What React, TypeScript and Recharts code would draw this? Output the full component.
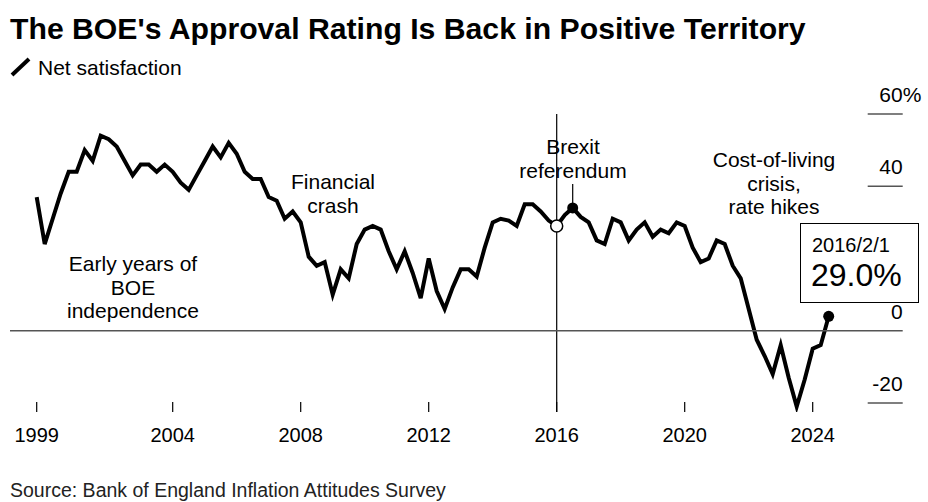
import { LineChart, Line, XAxis, YAxis, ReferenceLine } from "recharts";

// quarterly survey rounds, Nov 1999 .. Aug 2024
const FIRST_YEAR = 1999;
const LAST_YEAR = 2024;
const SURVEY_MONTHS = [2, 5, 8, 11];

const DATES: string[] = [];
for (let y = FIRST_YEAR; y <= LAST_YEAR; y++) {
  for (const m of SURVEY_MONTHS) {
    if (y === FIRST_YEAR && m < 11) continue;
    if (y === LAST_YEAR && m > 8) continue;
    DATES.push(`${y}/${m}/1`);
  }
}

const NET_SATISFACTION = [
  37, 24, 31, 38, 44, 44, 50, 47, 54, 53,
  51, 47, 43, 46, 46, 44, 46, 44, 41, 39,
  43, 47, 51, 48, 52, 49, 44, 42, 42, 37,
  36, 31, 33, 30, 20.5, 18, 19, 10, 17, 14.5,
  24, 28, 29, 28, 22, 17, 22, 16, 9, 20,
  11, 6, 12, 17, 17, 15, 23, 30, 31, 30.5,
  29, 35, 35, 33, 30.5, 29, 32, 34, 31.5, 30,
  25, 24, 31, 30, 25, 28, 30, 26, 28, 27,
  30, 29, 23, 19, 20, 25, 24, 18, 14.5, 6,
  -2.5, -7, -12, -4, -13, -21, -13.5, -5, -4, 4,
];

const X_TICKS = ["1999/11/1", "2004/2/1", "2008/2/1", "2012/2/1", "2016/2/1", "2020/2/1", "2024/2/1"];
const X_TICK_LABELS = ["1999", "2004", "2008", "2012", "2016", "2020", "2024"];
const Y_TICKS = [-20, 0, 20, 40, 60];
// the 20 tick sits behind the hover box, so its label is not drawn
const Y_HIDDEN_LABELS = [20];

const HOVER_DATE = "2016/2/1";
const BREXIT_DATE = "2016/8/1";

const data = DATES.map((date, i) => ({ date, value: NET_SATISFACTION[i] }));
const hoverIndex = DATES.indexOf(HOVER_DATE);
const brexitIndex = DATES.indexOf(BREXIT_DATE);
const lastIndex = DATES.length - 1;

const FONT = '"Liberation Sans", Arial, Helvetica, sans-serif';
const W = 928;
const H = 502;

function XTick(props: any) {
  const { x, y, payload } = props;
  const label = X_TICK_LABELS[X_TICKS.indexOf(payload.value)];
  return (
    <g>
      <line x1={x} x2={x} y1={y - 10} y2={y} stroke="#000" strokeWidth={1.2} />
      <text x={x} y={y + 30} textAnchor="middle" fontSize={20} fontFamily={FONT} fill="#000">
        {label}
      </text>
    </g>
  );
}

function YTick(props: any) {
  const { x, y, payload } = props;
  const v = payload.value;
  const showLabel = !Y_HIDDEN_LABELS.includes(v);
  return (
    <g>
      {v === 0 ? (
        <line x1={10} x2={x + 74} y1={y} y2={y} stroke="#555" strokeWidth={1.5} />
      ) : (
        <line x1={x + 39} x2={x + 74} y1={y} y2={y} stroke="#555" strokeWidth={1.5} />
      )}
      {showLabel && (
        <text x={x + 74} y={y - 12} textAnchor="end" fontSize={21} fontFamily={FONT} fill="#000">
          {v}
        </text>
      )}
      {v === 60 && (
        <text x={x + 74} y={y - 12} textAnchor="start" fontSize={21} fontFamily={FONT} fill="#000">
          %
        </text>
      )}
    </g>
  );
}

function Dot(props: any) {
  const { cx, cy, index } = props;
  if (index === hoverIndex) {
    return <circle key={index} cx={cx} cy={cy} r={6} fill="#fff" stroke="#000" strokeWidth={1.5} />;
  }
  if (index === brexitIndex) {
    return (
      <g key={index}>
        <line x1={cx} x2={cx} y1={cy - 24} y2={cy} stroke="#000" strokeWidth={1.2} />
        <circle cx={cx} cy={cy} r={5.5} fill="#000" />
      </g>
    );
  }
  if (index === lastIndex) {
    return <circle key={index} cx={cx} cy={cy} r={5.5} fill="#000" />;
  }
  return <g key={index} />;
}

function Note({ lines, x, y }: { lines: string[]; x: number; y: number }) {
  return (
    <text textAnchor="middle" fontSize={21} fontFamily={FONT} fill="#000">
      {lines.map((l, i) => (
        <tspan key={i} x={x} y={y + i * 23.5}>
          {l}
        </tspan>
      ))}
    </text>
  );
}

export default function App() {
  const hoverValue = NET_SATISFACTION[hoverIndex];
  return (
    <div style={{ position: "absolute", left: 0, top: 0, width: W, height: H, background: "#fff" }}>
      <LineChart
        width={W}
        height={H}
        data={data}
        margin={{ top: 114, right: 0, bottom: 50, left: 36.7 }}
      >
        <XAxis
          dataKey="date"
          ticks={X_TICKS}
          interval={0}
          axisLine={false}
          tickLine={false}
          tickSize={0}
          tickMargin={0}
          height={40}
          tick={<XTick />}
        />
        <YAxis
          orientation="right"
          type="number"
          domain={[-22.5, 60]}
          ticks={Y_TICKS}
          allowDataOverflow
          axisLine={false}
          tickLine={false}
          tickSize={0}
          tickMargin={0}
          width={99.3}
          tick={<YTick />}
        />
        <ReferenceLine x={HOVER_DATE} stroke="#000" strokeWidth={1.2} />
        <Line
          dataKey="value"
          stroke="#000"
          strokeWidth={4}
          strokeLinejoin="miter"
          dot={Dot}
          activeDot={false}
          isAnimationActive={false}
        />
      </LineChart>

      <svg
        width={W}
        height={H}
        style={{ position: "absolute", left: 0, top: 0, pointerEvents: "none" }}
      >
        <text x={10} y={39} fontSize={30.2} fontWeight="bold" fontFamily={FONT} fill="#000">
          The BOE's Approval Rating Is Back in Positive Territory
        </text>
        <line x1={12} y1={75} x2={29} y2={59} stroke="#000" strokeWidth={4} />
        <text x={38} y={75} fontSize={21} fontFamily={FONT} fill="#000">
          Net satisfaction
        </text>

        <Note lines={["Early years of", "BOE", "independence"]} x={133} y={271} />
        <Note lines={["Financial", "crash"]} x={333} y={189} />
        <Note lines={["Brexit", "referendum"]} x={573} y={154} />
        <Note lines={["Cost-of-living", "crisis,", "rate hikes"]} x={774} y={167} />

        <rect x={800.5} y={223.5} width={118} height={79} fill="#fff" stroke="#000" strokeWidth={1} />
        <text x={812} y={252} fontSize={20} fontFamily={FONT} fill="#000">
          {HOVER_DATE}
        </text>
        <text x={811} y={286} fontSize={32} fontFamily={FONT} fill="#000">
          {hoverValue.toFixed(1)}%
        </text>

        <text x={10} y={497} fontSize={19.5} fontFamily={FONT} fill="#222">
          Source: Bank of England Inflation Attitudes Survey
        </text>
      </svg>
    </div>
  );
}
